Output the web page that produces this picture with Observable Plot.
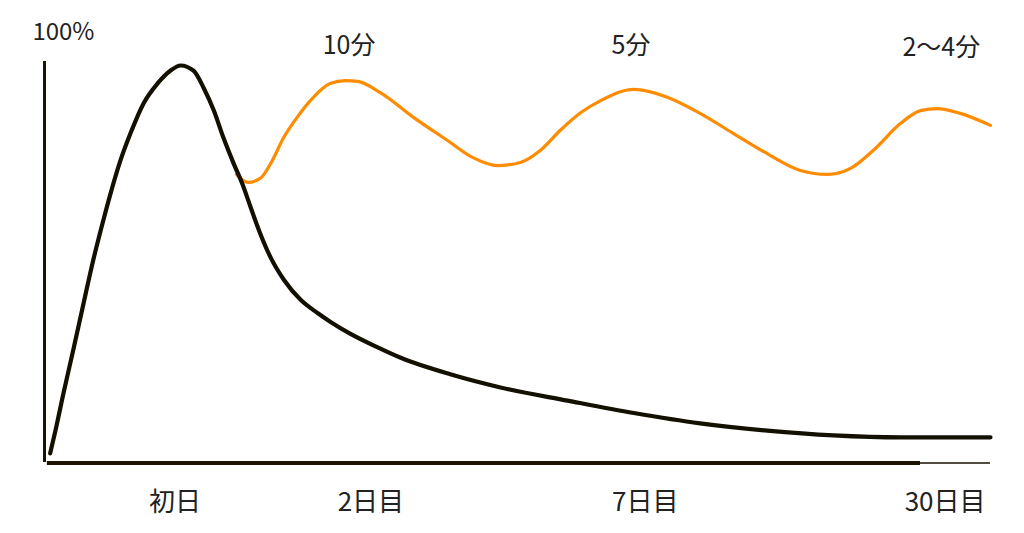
<!DOCTYPE html>
<html>
<head>
<meta charset="utf-8">
<script src="https://cdn.jsdelivr.net/npm/d3@7"></script>
<script src="https://cdn.jsdelivr.net/npm/@observablehq/plot@0.6"></script>
<style>
  html, body { margin: 0; padding: 0; background: #fff; }
  #chart svg { display: block; }
</style>
</head>
<body>
<div id="chart"></div>
<script>
// Forgetting curve (no review), x = elapsed time (arbitrary units), y = retention %
const forgetX = [0.6, 1.16, 2.0, 3.07, 4.12, 5.18, 6.13, 6.98, 8.03, 9.09, 10.47, 11.95, 13.3, 14.4, 15.75, 16.8, 17.9, 18.9, 20.0, 20.9, 21.8, 22.8, 23.9, 25.3, 27.1, 28.9, 30.2, 32.3, 35.0, 37.6, 42.9, 48.2, 55.3, 62.3, 69.3, 76.4, 83.4, 90.5, 100];
const forgetY = [1.8, 7.5, 16.8, 28.0, 39.3, 50.5, 59.4, 66.9, 75.2, 82.0, 89.5, 94.5, 97.7, 99.0, 97.7, 93.5, 87.7, 81.0, 74.4, 69.4, 63.4, 56.9, 50.9, 45.3, 40.2, 36.9, 34.8, 31.8, 28.6, 25.8, 21.6, 18.3, 15.0, 11.9, 9.3, 7.5, 6.3, 5.8, 5.8];

// Retention with review
const reviewX = [20.3, 21.5, 22.8, 23.9, 25.3, 26.7, 28.1, 30.2, 31.8, 33.1, 35.5, 39.0, 42.6, 45.3, 47.9, 50.3, 52.4, 54.5, 56.7, 58.8, 62.3, 65.9, 69.3, 72.8, 76.4, 79.9, 82.8, 85.2, 87.6, 90.5, 92.6, 94.4, 96.8, 100];
const reviewY = [71.7, 69.7, 70.7, 74.4, 81.0, 86.0, 90.2, 94.5, 95.2, 95.0, 92.2, 86.0, 80.2, 75.9, 73.9, 74.7, 77.7, 82.7, 87.2, 90.2, 93.0, 91.0, 87.0, 82.0, 76.9, 72.7, 71.7, 73.2, 77.7, 84.5, 87.7, 88.2, 87.0, 84.0];

// Tick labels on the time axis
const tickX = [13.8, 34.5, 63.5, 95.2];
const tickLabels = ["初日", "2日目", "7日目", "30日目"];

// Review-time annotations
const noteX = [32.2, 62.0, 94.8];
const noteY = [104, 104, 103.3];
const noteLabels = ["10分", "5分", "2〜4分"];

const forget = forgetX.map((x, i) => ({x, y: forgetY[i]}));
const review = reviewX.map((x, i) => ({x, y: reviewY[i]}));
const ticks = tickX.map((x, i) => ({x, label: tickLabels[i]}));
const notes = noteX.map((x, i) => ({x, y: noteY[i], label: noteLabels[i]}));

const font = "'Noto Sans CJK JP', 'Noto Sans', sans-serif";

const chart = Plot.plot({
  width: 1024,
  height: 533,
  marginLeft: 44,
  marginRight: 34,
  marginTop: 61,
  marginBottom: 73,
  x: {domain: [0, 100], axis: null},
  y: {domain: [0, 100], axis: null},
  style: {fontFamily: font, background: "#fff", overflow: "visible"},
  marks: [
    Plot.ruleX([0], {y1: -0.5, y2: 100, stroke: "#1a1400", strokeWidth: 3}),
    Plot.ruleY([-0.6], {x1: 0.3, x2: 92.6, stroke: "#1a1400", strokeWidth: 4}),
    Plot.ruleY([-0.6], {x1: 92.6, x2: 100, stroke: "#1a1400", strokeWidth: 1.5}),
    Plot.line(review, {x: "x", y: "y", curve: "monotone-x", stroke: "#ff8c00", strokeWidth: 3.2}),
    Plot.line(forget, {x: "x", y: "y", curve: "monotone-x", stroke: "#141000", strokeWidth: 4.2}),
    Plot.text(ticks, {x: "x", y: () => -10.5, text: "label", fontSize: 26, fill: "#222", clip: false, style: "letter-spacing:4px"}),
    Plot.text(notes, {x: "x", y: "y", text: "label", fontSize: 25, fill: "#222", clip: false}),
    Plot.text(["100%"], {x: () => 2.0, y: () => 107.3, text: d => d, fontSize: 24, fill: "#222", clip: false})
  ]
});

document.getElementById("chart").appendChild(chart);
</script>
</body>
</html>
